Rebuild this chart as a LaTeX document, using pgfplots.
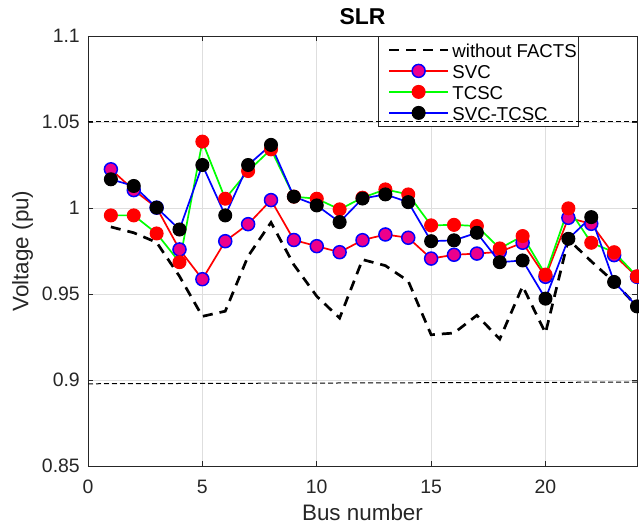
\documentclass[border=0pt]{standalone}
\usepackage{pgfplots}
\pgfplotsset{compat=1.18}
\usepackage{fontspec}
\setmainfont{Liberation Sans}
\definecolor{axgray}{gray}{0.15}
\definecolor{gridgray}{RGB}{222,222,222}

\pgfplotstableread{
bus noF svc tcsc both
1  0.9890 1.0225 0.9957 1.0167
2  0.9856 1.0104 0.9957 1.0128
3  0.9800 1.0002 0.9852 1.0002
4  0.9603 0.9759 0.9685 0.9875
5  0.9370 0.9586 1.0386 1.0250
6  0.9400 0.9807 1.0054 0.9957
7  0.9720 0.9906 1.0215 1.0250
8  0.9916 1.0046 1.0341 1.0367
9  0.9670 0.9814 1.0066 1.0066
10 0.9487 0.9778 1.0054 1.0015
11 0.9360 0.9743 0.9992 0.9918
12 0.9700 0.9813 1.0060 1.0055
13 0.9665 0.9846 1.0108 1.0079
14 0.9575 0.9827 1.0079 1.0034
15 0.9263 0.9706 0.9899 0.9807
16 0.9273 0.9728 0.9902 0.9812
17 0.9376 0.9735 0.9895 0.9856
18 0.9238 0.9745 0.9765 0.9685
19 0.9545 0.9798 0.9837 0.9695
20 0.9273 0.9600 0.9613 0.9473
21 0.9817 0.9943 0.9998 0.9821
22 0.9690 0.9908 0.9798 0.9947
23 0.9570 0.9726 0.9743 0.9570
24 0.9428 0.9600 0.9603 0.9428
}\data

\begin{document}
\begin{tikzpicture}
\begin{axis}[
  name=main,
  scale only axis, width=549bp, height=430bp,
  xmin=0, xmax=24, ymin=0.85, ymax=1.1,
  xtick={0,5,10,15,20}, xticklabels={0,5,10,15,20},
  ytick={0.85,0.9,0.95,1,1.05,1.1},
  yticklabels={0.85,0.9,0.95,1,1.05,1.1},
  tick align=inside, major tick length=5bp,
  grid=major, major grid style={gridgray, line width=0.8bp},
  axis line style={axgray, line width=0.8bp},
  every tick/.style={axgray, line width=0.8bp},
  ticklabel style={font=\fontsize{19.5}{22}\selectfont, text=axgray, inner sep=0pt},
  yticklabel style={anchor=east, xshift=-8bp},
  xticklabel style={anchor=north, yshift=-14bp},
  xlabel={Bus number}, ylabel={Voltage (pu)},
  label style={font=\fontsize{22.5}{26}\selectfont, text=axgray, inner sep=0pt},
  xlabel style={at={(axis description cs:0.5,-0.107)}, anchor=center},
  ylabel style={at={(axis description cs:-0.1193,0.5)}, anchor=center},
  title={SLR},
  title style={font=\fontsize{23}{26}\selectfont\bfseries, inner sep=0pt,
    at={(axis description cs:0.5,1.0314)}, anchor=center},
  legend cell align=left,
  legend style={at={(axis description cs:0.528,1)}, anchor=north west,
    draw=axgray, line width=0.8bp, fill=white,
    font=\fontsize{18.7}{22}\selectfont,
    inner xsep=0bp, inner ysep=3bp,
    nodes={text height=16.5bp, text depth=1.5bp, inner sep=1.5bp}},
  legend image code/.code={\path (0bp,0bp) (70bp,0bp);
    \draw[mark repeat=2,mark phase=2,#1] plot coordinates {(9.5bp,0bp) (39bp,0bp) (68.5bp,0bp)};},
]
\addplot[black, line width=2.7bp, dash pattern=on 10bp off 7bp] table[x=bus,y=noF] {\data};
\addlegendentry{without FACTS}
\addplot[red, line width=1.7bp, mark=*, mark size=6.5bp,
  mark options={solid, fill=magenta, draw=blue, line width=1.5bp}] table[x=bus,y=svc] {\data};
\addlegendentry{SVC}
\addplot[green, line width=1.7bp, mark=*, mark size=6.5bp,
  mark options={solid, fill=red, draw=red, line width=1bp}] table[x=bus,y=tcsc] {\data};
\addlegendentry{TCSC}
\addplot[blue, line width=1.7bp, mark=*, mark size=6.5bp,
  mark options={solid, fill=black, draw=black, line width=1bp}] table[x=bus,y=both] {\data};
\addlegendentry{SVC-TCSC}
\end{axis}
\begin{axis}[
  scale only axis, width=549bp, height=430bp,
  xmin=0, xmax=24, ymin=0.85, ymax=1.1,
  hide axis,
]
\addplot[black, line width=1bp, dash pattern=on 5bp off 3bp] coordinates {(0,1.05) (24,1.05)};
\addplot[black, line width=1bp, dash pattern=on 5bp off 3bp] coordinates {(0,0.8978) (24,0.8988)};
\end{axis}
\pgfresetboundingbox
\path (main.south west) ++(-88bp,-59bp) rectangle ++(639bp,525bp);
\end{tikzpicture}
\end{document}
